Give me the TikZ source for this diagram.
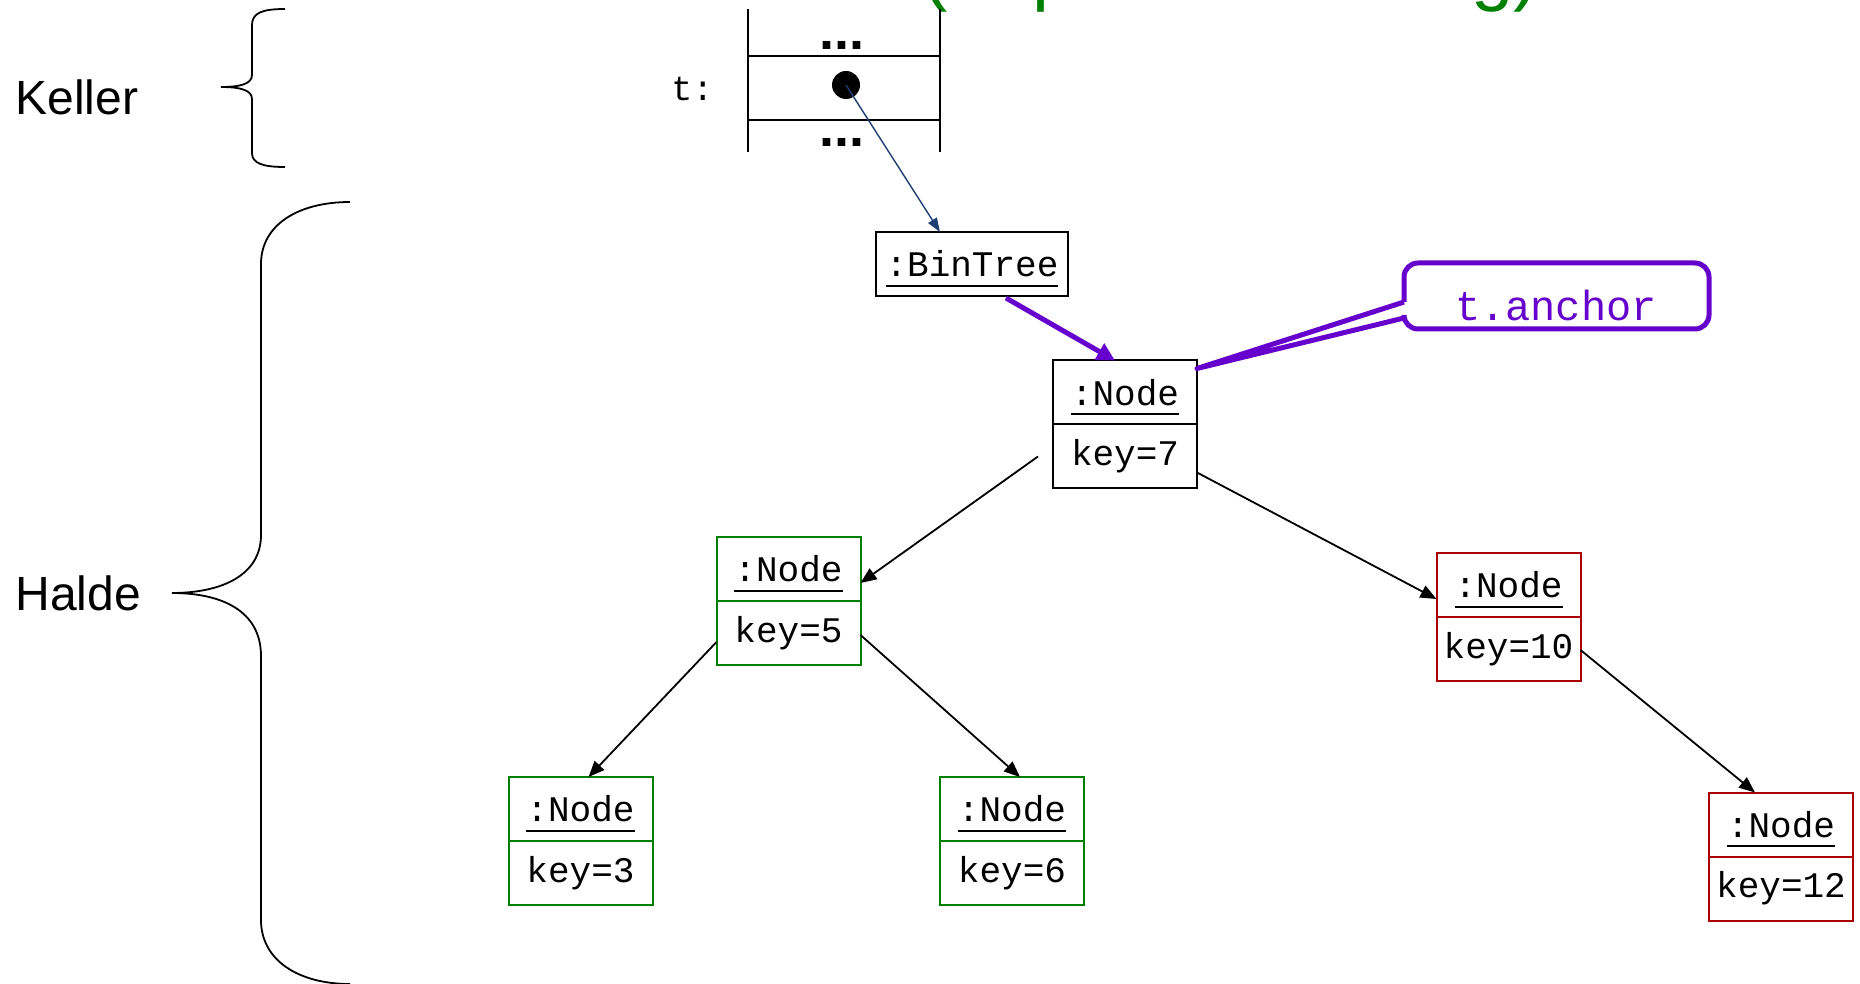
\documentclass[tikz,border=0pt]{standalone}
\usepackage{fontspec}
\setmainfont{Liberation Sans}
\newfontfamily\monof{Liberation Mono}
\usetikzlibrary{arrows.meta,calc}
\definecolor{objgreen}{RGB}{0,128,0}
\definecolor{objred}{RGB}{170,0,0}
\definecolor{anchorpurple}{RGB}{102,0,204}
\definecolor{refblue}{RGB}{31,63,115}
\newcommand\myul[1]{\setbox0\hbox{#1}\rlap{\smash{\rule[-5pt]{\wd0}{1pt}}}\box0}
\begin{document}
\begin{tikzpicture}[x=0.5pt,y=-0.5pt,
  comp/.style={draw=#1, line width=1pt, outer sep=0pt, minimum width=72pt, minimum height=32pt, inner sep=1pt, font=\monof\fontsize{18}{20}\selectfont, text=black},
  comp/.default=black,
  link/.style={line width=0.9pt, -{Triangle[length=8pt,width=6.5pt]}},
  sidelabel/.style={anchor=west, font=\fontsize{24}{28}\selectfont, inner sep=0},
  brace/.style={line width=0.9pt},
  dots/.style={font=\bfseries\fontsize{27}{30}\selectfont, inner sep=0},
  thick purple/.style={anchorpurple, line width=2.5pt}]
\useasboundingbox (0,0) rectangle (1860,984);

% cut-off green heading
\node[anchor=base west, inner sep=0, text=objgreen, font=\fontsize{38}{44}\selectfont] (head) at (922,-3) {(Implementierung)};

% side labels and braces
\node[sidelabel] (keller) at (15,97) {Keller};
\node[sidelabel] (halde) at (15,593) {Halde};
\draw[brace] (285,9) .. controls (262,9) and (252,13) .. (252,25) -- (252,75)
  .. controls (252,84) and (240,87) .. (221,87)
  .. controls (240,87) and (252,90) .. (252,99) -- (252,153)
  .. controls (252,163) and (262,167) .. (285,167);
\draw[brace] (350,202) .. controls (298,202) and (261,225) .. (261,264) -- (261,535)
  .. controls (261,575) and (222,593) .. (172,593)
  .. controls (222,593) and (261,611) .. (261,656) -- (261,920)
  .. controls (261,960) and (298,984) .. (350,984);

% stack frame
\draw[line width=1pt] (748,9) -- (748,152) (940,9) -- (940,152)
  (748,56) -- (940,56) (748,120) -- (940,120);
\node[dots] (d1) at (842,45) {...};
\node[dots] (d2) at (842,142) {...};
\node[anchor=west, font=\monof\fontsize{17.5}{20}\selectfont, inner sep=0] (tlab) at (671,89) {t:};
\coordinate (ptr) at (846,85);
\fill (ptr) circle[radius=7pt];

% objects
\node[comp, minimum width=96pt] (bt) at (972,264) {\myul{:BinTree}};

\node[comp] (n7t) at (1125,392.5) {\myul{:Node}};
\node[comp, anchor=north] (n7k) at (n7t.south) {key=7};

\node[comp=objgreen] (n5t) at (788.5,569) {\myul{:Node}};
\node[comp=objgreen, anchor=north] (n5k) at (n5t.south) {key=5};

\node[comp=objred] (n10t) at (1508.5,585) {\myul{:Node}};
\node[comp=objred, anchor=north] (n10k) at (n10t.south) {key=10};

\node[comp=objgreen] (n3t) at (580.5,809) {\myul{:Node}};
\node[comp=objgreen, anchor=north] (n3k) at (n3t.south) {key=3};

\node[comp=objgreen] (n6t) at (1012,809) {\myul{:Node}};
\node[comp=objgreen, anchor=north] (n6k) at (n6t.south) {key=6};

\node[comp=objred] (n12t) at (1781,824.5) {\myul{:Node}};
\node[comp=objred, anchor=north] (n12k) at (n12t.south) {key=12};

% reference from stack
\draw[refblue, line width=0.7pt, -{Triangle[length=7pt,width=5pt]}] (ptr) -- ($(bt.north)+(-32,0)$);

% anchor reference
\draw[thick purple, -{Triangle[length=9pt,width=9pt]}] ($(bt.south)+(34,2)$) -- ($(n7t.north)+(-10,0)$);

% callout t.anchor
\node[text=anchorpurple, font=\monof\fontsize{21}{24}\selectfont, inner sep=0] (ta) at (1556,305) {t.anchor};
\coordinate (tip) at ($(n7t.north east)+(0,8)$);
\draw[thick purple, rounded corners=7pt] (1404,302) -- (1404,263) -- (1709,263) -- (1709,329) -- (1404,329) -- (1404,318);
\draw[thick purple, line join=round] (1404,318) -- (tip) -- (1404,302);

% tree links
\draw[link] ($(n7k.west)+(-15,0)$) -- ($(n5t.east)+(0,14)$);
\draw[link] ($(n7k.east)+(0,16)$) -- ($(n10t.west)+(0,14)$);
\draw[link] ($(n5k.west)+(0,9)$) -- ($(n3t.north)+(8,0)$);
\draw[link] ($(n5k.east)+(0,2)$) -- ($(n6t.north)+(8,0)$);
\draw[link] ($(n10k.east)+(0,1)$) -- ($(n12t.north)+(-26,0)$);
\end{tikzpicture}
\end{document}
